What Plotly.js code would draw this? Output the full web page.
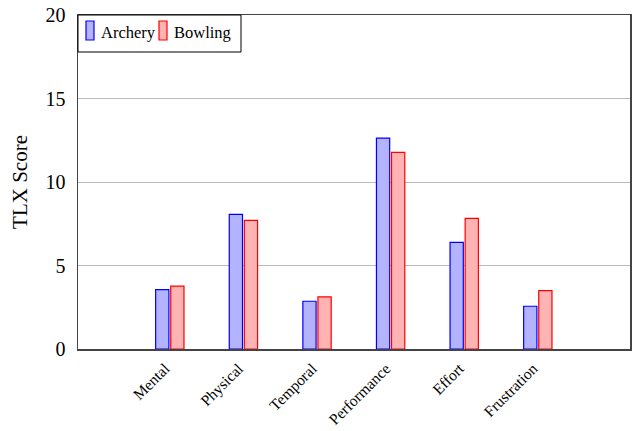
<!DOCTYPE html>
<html>
<head>
<meta charset="utf-8">
<script src="https://cdn.plot.ly/plotly-3.0.1.min.js"></script>
<style>
  html, body { margin: 0; padding: 0; background: #fff; }
  #chart { width: 632px; height: 431px; }
</style>
</head>
<body>
<div id="chart"></div>
<script>
// NASA-TLX subscale scores per activity
const categories = ['Mental', 'Physical', 'Temporal', 'Performance', 'Effort', 'Frustration'];
const archery = [3.56, 8.06, 2.86, 12.63, 6.38, 2.56];
const bowling = [3.76, 7.70, 3.12, 11.77, 7.82, 3.50];
const yTicks = [0, 5, 10, 15, 20];

const xIdx = categories.map((_, i) => i);
const font = 'Liberation Serif, Times New Roman, serif';

const series = [
  { name: 'Archery', values: archery, fill: 'rgb(179,179,255)', edge: 'rgb(0,0,255)', offset: -0.195 },
  { name: 'Bowling', values: bowling, fill: 'rgb(255,179,179)', edge: 'rgb(255,0,0)', offset: 0.01 }
];

const traces = series.map(s => ({
  type: 'bar', name: s.name, x: xIdx, y: s.values,
  width: 0.18, offset: s.offset,
  marker: { color: s.fill, line: { color: s.edge, width: 1.2 } }
}));

// Plot area in pixels, used to place the compact legend box
const W = 632, H = 431;
const M = { l: 78, r: 2, t: 15, b: 82 };
const pw = W - M.l - M.r, ph = H - M.t - M.b;
const px = x => (x - M.l) / pw;
const py = y => (H - M.b - y) / ph;

const shapes = [
  { type: 'rect', xref: 'paper', yref: 'paper', x0: px(78), x1: px(241), y0: py(52), y1: py(15),
    line: { color: '#000', width: 1 }, fillcolor: '#fff', layer: 'above' }
];
const annotations = [];
const legendX = [86, 159];
series.forEach((s, i) => {
  const x0 = legendX[i];
  shapes.push({ type: 'rect', xref: 'paper', yref: 'paper', x0: px(x0), x1: px(x0 + 8), y0: py(40), y1: py(21),
    line: { color: s.edge, width: 1.2 }, fillcolor: s.fill, layer: 'above' });
  annotations.push({ xref: 'paper', yref: 'paper', x: px(x0 + 13), y: py(32.5), xanchor: 'left', yanchor: 'middle',
    text: s.name, showarrow: false, font: { size: 16.5, family: font, color: '#000' } });
});

const layout = {
  width: W, height: H,
  margin: M,
  paper_bgcolor: '#fff', plot_bgcolor: '#fff',
  font: { family: font, color: '#000' },
  showlegend: false,
  shapes: shapes,
  annotations: annotations,
  xaxis: {
    range: [-1.25, 6.25],
    tickvals: xIdx, ticktext: categories, tickangle: -45,
    tickfont: { size: 15.5, family: font },
    ticklabelshift: -5, ticklabelstandoff: 3,
    ticks: '', showgrid: false, zeroline: false,
    showline: true, mirror: true, linecolor: '#444', linewidth: 1.5
  },
  yaxis: {
    range: [0, 20], tickvals: yTicks, ticktext: yTicks.map(String),
    tickfont: { size: 20, family: font }, ticklabelstandoff: 7,
    ticks: '', showgrid: true, gridcolor: '#bbb', gridwidth: 1,
    zeroline: false, showline: true, mirror: true, linecolor: '#444', linewidth: 1.5,
    title: { text: 'TLX Score', font: { size: 21, family: font }, standoff: 12 }
  }
};

Plotly.newPlot('chart', traces, layout, { displayModeBar: false, staticPlot: true });
</script>
</body>
</html>
